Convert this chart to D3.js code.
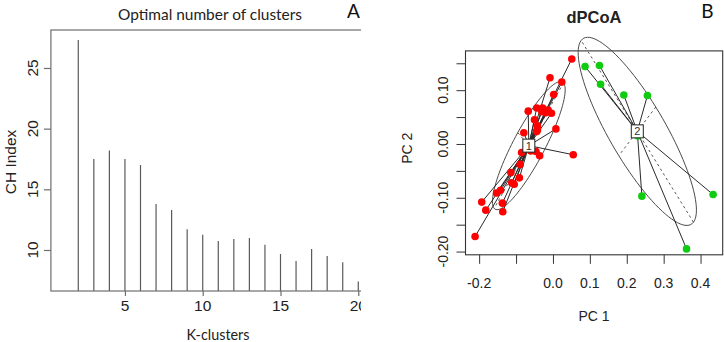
<!DOCTYPE html>
<html><head><meta charset="utf-8">
<script src="https://cdn.jsdelivr.net/npm/d3@7"></script>
<style>html,body{margin:0;padding:0;background:#fff;}svg{display:block;}</style>
</head><body>
<svg id="c" width="724" height="342"></svg>
<script>
// ---- Panel A data ----
const kClusters = [2,3,4,5,6,7,8,9,10,11,12,13,14,15,16,17,18,19,20];
const chIndex   = [27.3,17.5,18.2,17.5,17.0,13.8,13.3,11.7,11.26,10.74,10.9,10.99,10.44,9.67,9.1,10.08,9.5,8.98,7.4];
const chTicks = [10,15,20,25];
const kTicks = [5,10,15,20];
const titleA = "Optimal number of clusters";
const xLabelA = "K-clusters";
const yLabelA = "CH Index";

// ---- Panel B data (dPCoA) ----
const redPC1 = [0.051,-0.008,0.024,0.002,-0.067,-0.044,-0.028,-0.013,-0.004,-0.042,-0.042,-0.044,-0.079,0.008,0.055,-0.085,-0.060,-0.046,-0.036,-0.089,-0.114,-0.091,-0.112,-0.105,-0.142,-0.153,-0.193,-0.182,-0.137,-0.136,-0.211,-0.030,-0.020,-0.050];
const redPC2 = [0.158,0.123,0.115,0.092,0.061,0.067,0.067,0.063,0.057,0.034,0.026,0.023,0.021,0.028,-0.020,-0.016,-0.013,-0.014,-0.022,-0.038,-0.053,-0.063,-0.072,-0.075,-0.086,-0.091,-0.108,-0.123,-0.110,-0.126,-0.172,0.060,0.058,0.045];
const greenPC1 = [0.087,0.126,0.129,0.192,0.256,0.230,0.241,0.434,0.362];
const greenPC2 = [0.144,0.146,0.111,0.091,0.090,0.015,-0.097,-0.094,-0.195];
const groupNames = ["1","2"];
const groupColors = ["#ff0000","#10cc10"];
const pc1Ticks = [-0.2,-0.1,0.0,0.1,0.2,0.3,0.4];
const pc1Labels = ["-0.2","","0.0","0.1","0.2","0.3","0.4"];
const pc2Ticks = [-0.20,-0.15,-0.10,-0.05,0.00,0.05,0.10,0.15];
const pc2Labels = ["-0.20","","-0.10","","0.00","","0.10",""];
const titleB = "dPCoA";
const cellipse = 1.5;

const svg = d3.select("#c");
const sans = "'Liberation Sans', Arial, sans-serif";
const cal = "Lato, 'Open Sans', sans-serif";

function fitText(sel, w) {
  const n = sel.node(); const fs = parseFloat(sel.attr("font-size"));
  const cur = n.getComputedTextLength();
  sel.attr("font-size", (fs * w / cur).toFixed(2));
}

// ================= Panel A =================
const xA = d3.scaleLinear().domain([0.24, 20.76]).range([50.9, 370.1]);
const yA = d3.scaleLinear().domain([6.62, 28.13]).range([291, 30]);
svg.append("clipPath").attr("id","clipA").append("rect").attr("x",0).attr("y",0).attr("width",361).attr("height",342);
const gA = svg.append("g").attr("clip-path","url(#clipA)");

gA.selectAll("line.bar").data(kClusters).join("line").attr("class","bar")
  .attr("x1", d => xA(d)).attr("x2", d => xA(d))
  .attr("y1", yA.range()[0]).attr("y2", (d,i) => yA(chIndex[i]))
  .attr("stroke","#5a5a5a").attr("stroke-width",1.2);

// box
gA.append("rect").attr("x", xA.range()[0]).attr("y", yA.range()[1])
  .attr("width", xA.range()[1]-xA.range()[0]).attr("height", yA.range()[0]-yA.range()[1])
  .attr("fill","none").attr("stroke","#6e6e6e").attr("stroke-width",1.2);

// y axis
const yAxA = gA.append("g").attr("transform",`translate(${xA.range()[0]},0)`)
  .call(d3.axisLeft(yA).tickValues(chTicks).tickSize(7).tickFormat(""));
yAxA.select(".domain").remove();
yAxA.selectAll("line").attr("stroke","#6e6e6e").attr("stroke-width",1.2);
gA.selectAll("text.ytA").data(chTicks).join("text").attr("class","ytA")
  .attr("transform", d => `translate(32.5,${yA(d)}) rotate(-90)`)
  .attr("text-anchor","middle").attr("dominant-baseline","central")
  .attr("font-family",sans).attr("font-size",15.5).attr("fill","#222").text(d => d);

// x axis
const xAxA = gA.append("g").attr("transform",`translate(0,${yA.range()[0]})`)
  .call(d3.axisBottom(xA).tickValues(kTicks).tickSize(5).tickFormat(""));
xAxA.select(".domain").remove();
xAxA.selectAll("line").attr("stroke","#6e6e6e").attr("stroke-width",1.2);
gA.selectAll("text.xtA").data(kTicks).join("text").attr("class","xtA")
  .attr("x", d => xA(d)).attr("y", 305)
  .attr("text-anchor","middle").attr("dominant-baseline","central")
  .attr("font-family",sans).attr("font-size",15.5).attr("fill","#222").text(d => d);

svg.append("text").attr("transform","translate(10,162) rotate(-90)")
  .attr("text-anchor","middle").attr("dominant-baseline","central")
  .attr("font-family",sans).attr("font-size",15.5).attr("fill","#222").text(yLabelA);

const tA = svg.append("text").attr("x",210).attr("y",14).attr("text-anchor","middle").attr("dominant-baseline","central")
  .attr("font-family",cal).attr("font-size",15).attr("fill","#222").text(titleA);
fitText(tA, 184);
const kA = svg.append("text").attr("x",218).attr("y",334).attr("text-anchor","middle").attr("dominant-baseline","central")
  .attr("font-family",cal).attr("font-size",15).attr("fill","#222").text(xLabelA);
fitText(kA, 63);
svg.append("text").attr("x",353.5).attr("y",10).attr("text-anchor","middle").attr("dominant-baseline","central")
  .attr("font-family",cal).attr("font-size",19).attr("fill","#111").text("A");

// ================= Panel B =================
const xB = d3.scaleLinear().domain([-0.237, 0.46]).range([465.5, 722.7]);
const yB = d3.scaleLinear().domain([-0.206, 0.173]).range([254.8, 50.9]);
const gB = svg.append("g");

const groups = [
  {name: groupNames[0], color: groupColors[0], pts: redPC1.map((x,i) => [x, redPC2[i]])},
  {name: groupNames[1], color: groupColors[1], pts: greenPC1.map((x,i) => [x, greenPC2[i]])}
];

function ellipseOf(pts) {
  const n = pts.length;
  const mx = d3.mean(pts, p => p[0]), my = d3.mean(pts, p => p[1]);
  const vx = d3.sum(pts, p => (p[0]-mx)**2)/n;
  const vy = d3.sum(pts, p => (p[1]-my)**2)/n;
  const cxy = d3.sum(pts, p => (p[0]-mx)*(p[1]-my))/n;
  const delta = Math.sqrt((vx-vy)**2 + 4*cxy*cxy);
  let l1 = (vx+vy+delta)/2, l2 = vx+vy-l1;
  l1 = Math.sqrt(Math.max(l1,0)); l2 = Math.sqrt(Math.max(l2,0));
  let a0 = 1, b0 = (l1*l1 - vx)/cxy;
  const nm = Math.sqrt(a0*a0+b0*b0); a0/=nm; b0/=nm;
  const c11 = cellipse*a0*l1, c12 = -cellipse*b0*l2, c21 = cellipse*b0*l1, c22 = cellipse*a0*l2;
  const ring = d3.range(0, 101).map(i => {
    const t = 2*Math.PI*i/100;
    return [mx + c11*Math.cos(t) + c12*Math.sin(t), my + c21*Math.cos(t) + c22*Math.sin(t)];
  });
  return {mx, my, ring, ax1: [[mx+c11,my+c21],[mx-c11,my-c21]], ax2: [[mx+c12,my+c22],[mx-c12,my-c22]]};
}
groups.forEach(g => g.ell = ellipseOf(g.pts));

const line = d3.line().x(p => xB(p[0])).y(p => yB(p[1]));

// box
gB.append("rect").attr("x", xB.range()[0]).attr("y", yB.range()[1])
  .attr("width", xB.range()[1]-xB.range()[0]).attr("height", yB.range()[0]-yB.range()[1])
  .attr("fill","none").attr("stroke","#333").attr("stroke-width",1.1);

groups.forEach(g => {
  // ellipse
  gB.append("path").attr("d", line(g.ell.ring)).attr("fill","none").attr("stroke","#4a4a4a").attr("stroke-width",1);
  // axes dashed
  [g.ell.ax1, g.ell.ax2].forEach(a => gB.append("path").attr("d", line(a)).attr("fill","none")
    .attr("stroke","#555").attr("stroke-width",1).attr("stroke-dasharray","2.5,3"));
  // stars
  gB.selectAll(null).data(g.pts).join("line")
    .attr("x1", xB(g.ell.mx)).attr("y1", yB(g.ell.my))
    .attr("x2", p => xB(p[0])).attr("y2", p => yB(p[1]))
    .attr("stroke","#2a2a2a").attr("stroke-width",1);
});
groups.forEach(g => {
  gB.selectAll(null).data(g.pts).join("circle")
    .attr("cx", p => xB(p[0])).attr("cy", p => yB(p[1])).attr("r",3.8).attr("fill", g.color);
});
groups.forEach(g => {
  const cx = xB(g.ell.mx), cy = yB(g.ell.my);
  gB.append("rect").attr("x", cx-6).attr("y", cy-6.5).attr("width",12).attr("height",13)
    .attr("fill","#fff").attr("stroke","#222").attr("stroke-width",1);
  gB.append("text").attr("x", cx).attr("y", cy).attr("text-anchor","middle").attr("dominant-baseline","central")
    .attr("font-family",sans).attr("font-size",11).attr("fill","#333").text(g.name);
});

// axes B
const xAxB = gB.append("g").attr("transform",`translate(0,${yB.range()[0]})`)
  .call(d3.axisBottom(xB).tickValues(pc1Ticks).tickSize(9).tickFormat(""));
xAxB.select(".domain").remove();
xAxB.selectAll("line").attr("stroke","#333");
gB.selectAll("text.xtB").data(pc1Ticks).join("text").attr("class","xtB")
  .attr("x", d => xB(d)).attr("y", 282.7).attr("text-anchor","middle").attr("dominant-baseline","central")
  .attr("font-family",sans).attr("font-size",14).attr("fill","#222").text((d,i) => pc1Labels[i]);
const yAxB = gB.append("g").attr("transform",`translate(${xB.range()[0]},0)`)
  .call(d3.axisLeft(yB).tickValues(pc2Ticks).tickSize(9).tickFormat(""));
yAxB.select(".domain").remove();
yAxB.selectAll("line").attr("stroke","#333");
gB.selectAll("text.ytB").data(pc2Ticks).join("text").attr("class","ytB")
  .attr("transform", d => `translate(443.3,${yB(d)}) rotate(-90)`)
  .attr("text-anchor","middle").attr("dominant-baseline","central")
  .attr("font-family",sans).attr("font-size",14).attr("fill","#222").text((d,i) => pc2Labels[i]);

svg.append("text").attr("x",594).attr("y",316).attr("text-anchor","middle").attr("dominant-baseline","central")
  .attr("font-family",sans).attr("font-size",14).attr("fill","#222").text("PC 1");
svg.append("text").attr("transform","translate(406.7,148.3) rotate(-90)").attr("text-anchor","middle").attr("dominant-baseline","central")
  .attr("font-family",sans).attr("font-size",14).attr("fill","#222").text("PC 2");
svg.append("text").attr("x",594).attr("y",17).attr("text-anchor","middle").attr("dominant-baseline","central")
  .attr("font-family",sans).attr("font-size",16.5).attr("font-weight","bold").attr("fill","#222").text(titleB);
svg.append("text").attr("x",707.5).attr("y",10).attr("text-anchor","middle").attr("dominant-baseline","central")
  .attr("font-family",cal).attr("font-size",19).attr("fill","#111").text("B");
</script>
</body></html>
